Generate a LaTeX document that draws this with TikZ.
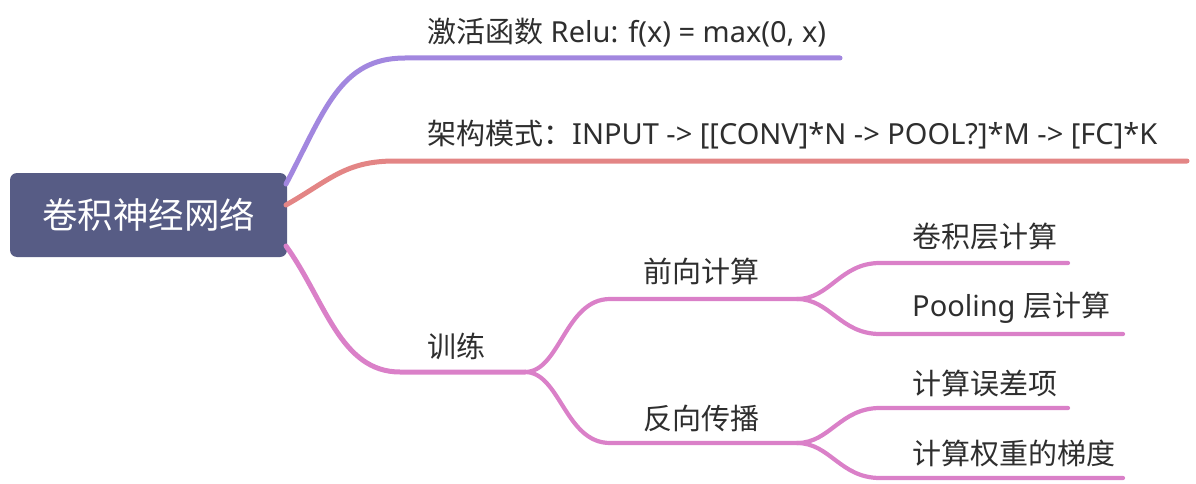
\documentclass[tikz,border=0pt]{standalone}
\usepackage{fontspec}
\setmainfont{Noto Sans CJK SC}
\newfontfamily\latn{Noto Sans}
\definecolor{rootfill}{HTML}{575C85}
\definecolor{cpurple}{HTML}{A287DF}
\definecolor{cred}{HTML}{E38585}
\definecolor{cpink}{HTML}{DA80C8}
\definecolor{txt}{HTML}{2E2E2E}
\begin{document}
\begin{tikzpicture}[x=1pt,y=-1pt,
  rootbox/.style={fill=rootfill,rounded corners=7pt,text=white,font=\fontsize{35.5}{40}\selectfont,minimum width=277pt,minimum height=84pt,inner sep=0pt},
  lbl/.style={anchor=west,text=txt,font=\fontsize{29}{33}\selectfont,inner sep=0pt},
  br1/.style={line width=5pt,line cap=round},
  br2/.style={line width=4.2pt,line cap=round}]
\useasboundingbox (0,0) rectangle (1196,484);
\node[rootbox] (root) at (148.5,215) {卷积神经网络};
% level 1 anchors
\coordinate (p0) at (286,184);
\coordinate (p1) at (405,58);
\coordinate (p2) at (840,58);
\coordinate (r0) at (286,205);
\coordinate (r1) at (395,161);
\coordinate (r2) at (1187,161);
\coordinate (k0) at (286,246);
\coordinate (k1) at (400,372);
\coordinate (k2) at (525,372);
% level 2
\coordinate (f1) at (610,299);
\coordinate (f2) at (797,299);
\coordinate (b1) at (610,443);
\coordinate (b2) at (797,443);
% level 3
\coordinate (c1) at (880,263);
\coordinate (c2) at (1068,263);
\coordinate (q1) at (880,334);
\coordinate (q2) at (1123,334);
\coordinate (e1) at (880,408);
\coordinate (e2) at (1068,408);
\coordinate (g1) at (880,478);
\coordinate (g2) at (1123,478);

\draw[br1,cpurple] (p0) .. controls (325,110) and (340,58) .. (p1) -- (p2);
\draw[br1,cred] (r0) .. controls (330,180) and (345,161) .. (r1) -- (r2);
\draw[br1,cpink] (k0) .. controls (325,300) and (340,372) .. (k1) -- (k2);
\draw[br2,cpink] (k2) .. controls (560,372) and (565,299) .. (f1) -- (f2);
\draw[br2,cpink] (k2) .. controls (560,372) and (565,443) .. (b1) -- (b2);
\draw[br2,cpink] (f2) .. controls (830,299) and (840,263) .. (c1) -- (c2);
\draw[br2,cpink] (f2) .. controls (830,299) and (840,334) .. (q1) -- (q2);
\draw[br2,cpink] (b2) .. controls (830,443) and (840,408) .. (e1) -- (e2);
\draw[br2,cpink] (b2) .. controls (830,443) and (840,478) .. (g1) -- (g2);

\node[lbl] (t1) at (427,33) {激活函数{\latn\ Relu: f(x) = max(0, x)}};
\node[lbl] (t2) at (427,135) {架构模式：{\latn INPUT -> [[CONV]*N -> POOL?]*M -> [FC]*K}};
\node[lbl] (t3) at (427,346) {训练};
\node[lbl] (t4) at (643,271) {前向计算};
\node[lbl] (t5) at (643,418) {反向传播};
\node[lbl] (t6) at (912,237) {卷积层计算};
\node[lbl] (t7) at (912,308) {{\latn Pooling }层计算};
\node[lbl] (t8) at (912,383) {计算误差项};
\node[lbl] (t9) at (912,453) {计算权重的梯度};
\end{tikzpicture}
\end{document}
